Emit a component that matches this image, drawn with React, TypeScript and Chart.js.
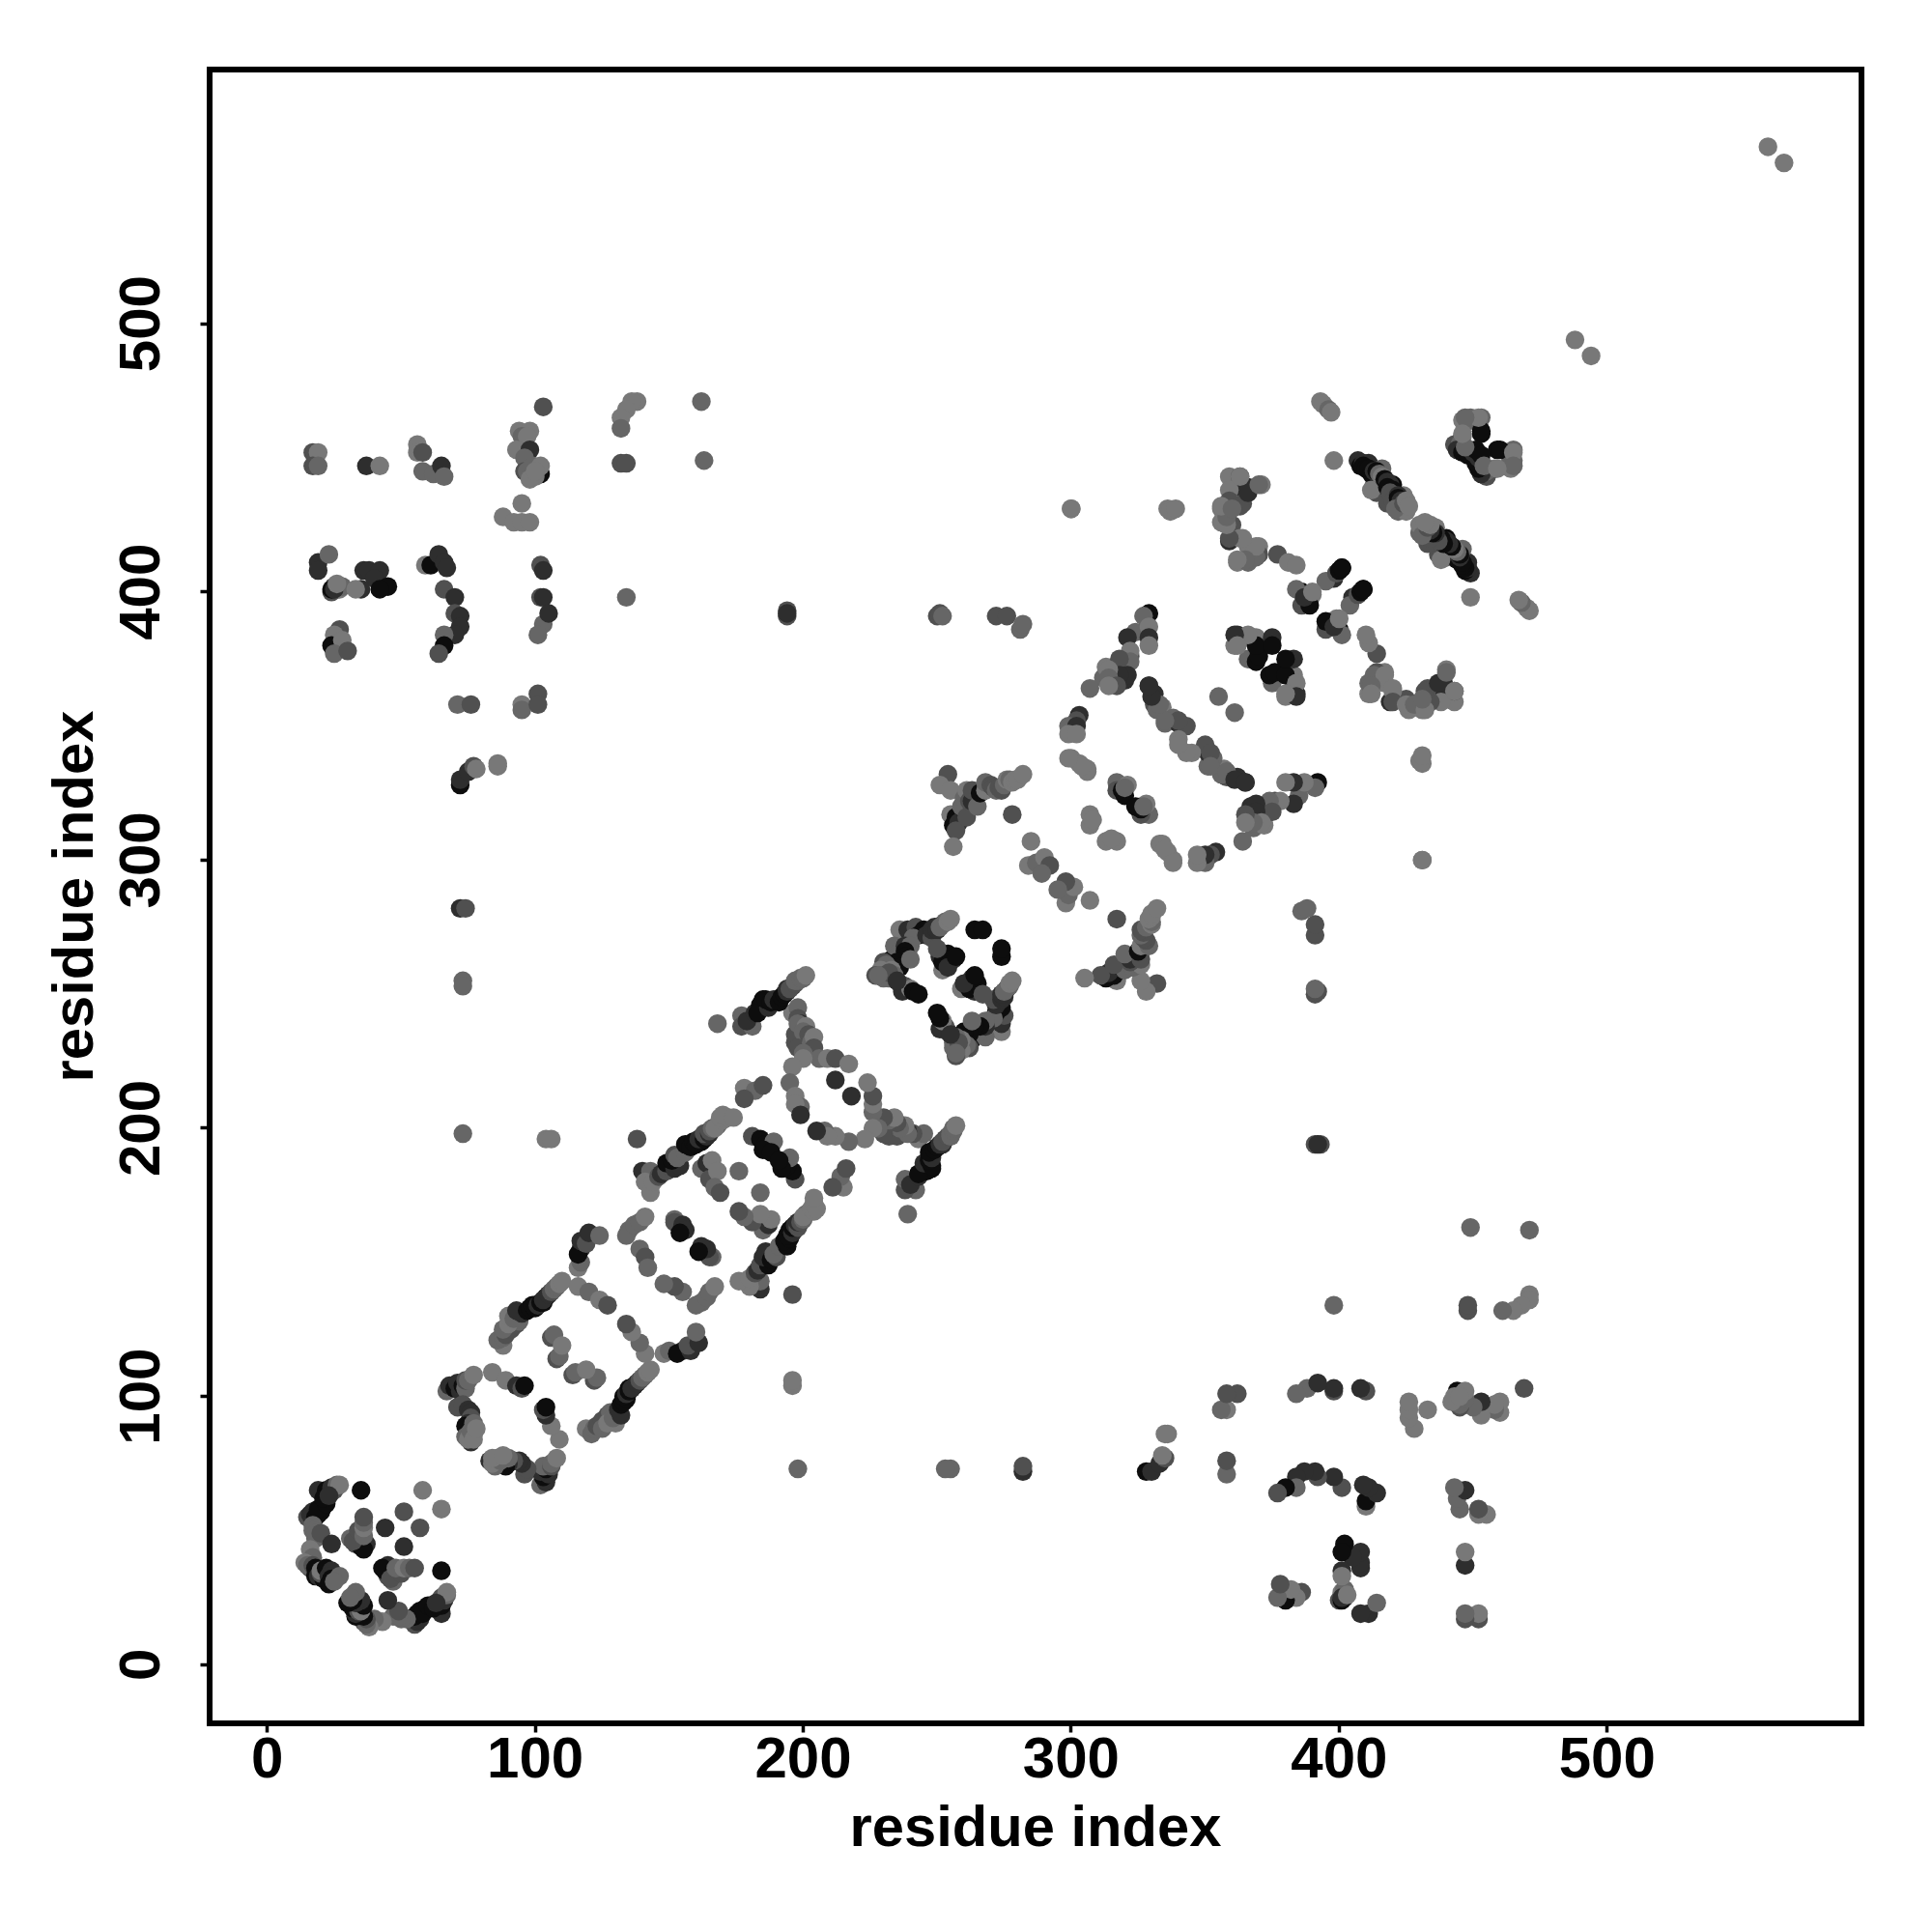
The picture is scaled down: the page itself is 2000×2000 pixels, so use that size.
import React, { useEffect, useRef } from "react";
import { Chart, registerables } from "chart.js";

Chart.register(...registerables);

// Each contact: [residue i, residue j, score class 0..4]. Every contact is plotted at (i,j) and (j,i).
const sideContacts = [
  [413,440,3],[414,437,2],[418,433,2],[422,430,3],[425,430,4],[411,448,1],[416,446,3],[420,440,0],[424,436,4],
  [316,372,2],[312,368,3],[317,367,1],[321,373,3],[324,385,3],[319,371,2],[320,367,1],[322,376,2],[318,372,2],[313,369,3],[313,372,4],
  [24,400,2],[25,402,1],
];
const firstDomain = [
  [15,55,2],[16,56,1],[25,65,2],[19,65,1],[22,65,0],[24,66,1],[26,67,3],[27,67,4],[35,65,0],[58,65,4],[51,57,2],[44,51,1],
  [33,45,2],[31,47,3],[34,48,1],[37,45,1],[35,47,1],[34,46,0],[35,44,0],[36,43,0],[32,46,2],[34,50,2],[36,48,3],[36,51,4],[36,53,3],[36,55,2],
  [17,57,1],[18,55,0],[19,56,0],[21,59,0],[20,57,0],[19,58,0],[22,60,0],[21,62,0],[23,63,1],[17,52,3],[17,50,3],[18,47,3],[18,49,3],[20,49,2],[24,45,1],[16,43,4],
  [17,40,3],[14,38,4],[16,36,2],[15,37,3],[17,37,2],[18,36,0],[18,33,0],[19,33,1],[21,32,0],[20,34,2],[20,35,4],[22,36,0],[24,35,1],[23,33,1],[24,32,0],[23,30,0],[27,33,3],[25,31,3],
];
const ringOne = [
  [67,102,3],[68,104,1],[70,103,0],[71,105,1],[72,102,1],[73,104,0],[74,103,3],[74,106,2],[75,106,3],[77,108,4],[84,109,4],[89,106,4],[93,104,1],[95,103,2],[96,104,0],
  [71,96,2],[73,97,2],[75,95,1],[76,94,1],[76,92,2],[75,90,1],[74,89,0],[77,90,3],[75,86,0],[76,83,1],[74,85,3],[75,84,4],[77,86,3],[76,87,3],[77,84,4],[78,88,4],
];
const ringTwo = [
  [87,121,4],[88,119,4],[86,121,3],[88,122,3],[89,123,2],[91,125,2],[88,125,3],[93,127,2],[94,128,3],[90,127,4],[90,130,4],[92,129,3],[95,131,1],[93,132,1],[97,132,0],[98,133,0],[99,134,0],[100,133,0],[101,134,1],[102,135,0],[103,135,0],[104,137,0],[103,136,1],[105,138,1],[106,139,2],[107,140,3],[108,141,3],[109,142,4],[110,143,4],
  [116,141,4],[120,139,3],[124,136,4],[127,134,2],
  [106,122,2],[107,123,3],[108,114,2],[109,115,3],[110,119,4],
  [116,148,4],[117,150,3],[117,155,1],[116,153,0],[117,158,1],[119,157,2],[120,161,1],[124,160,3],
  [135,162,3],[134,160,3],[137,164,3],[139,165,3],[141,167,4],
  [139,155,3],[141,152,2],[142,148,3],[152,166,3],[152,165,2],[155,164,1],[156,162,1],[154,161,0],
];
const bandThree = [
  [140,184,1],[143,184,3],[141,180,4],[143,176,4],[144,180,4],[146,182,2],[147,183,1],[149,184,2],[150,186,2],[149,187,0],[152,185,1],[154,186,1],[151,188,0],[152,190,2],[153,189,3],[156,191,3],[156,194,0],
  [158,193,0],[159,195,0],[160,194,0],[162,195,0],[161,196,1],[163,196,0],[164,197,1],[163,198,2],[165,198,1],[165,199,2],[166,200,3],[168,201,3],[167,200,4],[170,203,4],[169,204,4],[172,204,4],[170,205,4],[174,204,4],
  [162,185,3],[164,187,1],[166,188,4],[165,181,2],[168,184,4],[167,178,3],[169,176,2],[176,184,3],
  [181,197,2],[184,196,0],[186,194,0],[189,195,3],[185,192,0],[188,191,0],
  [178,215,4],[182,214,3],[185,216,2],[178,211,2],
  [168,239,3],[73,198,3],[104,196,4],[106,196,4],[138,196,2],
];
const ringFourStem = [
  [196,243,4],[198,245,3],[198,241,2],[197,232,2],[197,235,2],[199,239,1],[198,239,3],[201,238,4],[200,236,3],[202,235,2],[198,230,2],[203,232,3],[204,234,4],[204,230,2],[206,226,3],[209,226,4],[212,226,2],[217,224,4],[212,218,1],
  [200,228,3],[200,226,4],[196,223,4],[195,217,3],[197,212,4],[199,208,3],[197,209,4],[199,205,1],
  [177,242,3],[177,238,2],[181,238,3],[179,240,1],[182,243,1],[184,246,0],[185,248,0],[183,243,0],[187,245,1],[186,248,0],[188,247,0],[189,248,1],[191,247,0],[192,249,0],[193,250,0],[194,251,1],[194,252,1],[196,253,1],[195,252,2],[197,254,2],[198,255,3],[197,255,3],[199,256,3],[200,256,3],[201,257,4],
];
const ringFour = [
  [236,274,4],[239,274,1],[242,275,2],[243,272,0],[245,274,0],[241,271,3],[246,272,1],[248,271,2],[248,274,1],[249,275,1],[250,274,1],[252,276,1],[253,277,3],[251,275,3],[254,277,4],[255,278,4],
  [233,263,0],[234,268,3],[236,266,3],[238,268,1],[240,268,3],[238,266,0],[238,264,0],[235,262,0],[236,260,0],[240,263,3],[230,262,2],[231,261,3],[229,259,4],[233,259,4],[227,257,2],[229,257,3],[230,256,3],[232,256,3],[234,257,3],[236,254,2],[238,253,2],[237,251,1],[240,252,4],[241,251,0],[243,250,0],
  [251,264,1],[252,259,4],[252,262,0],[254,265,0],[256,263,1],[255,263,0],[254,260,1],[264,274,0],[267,274,0],[267,250,2],
  [232,258,2],[257,264,0],[228,257,3],[235,255,1],
];
const helixBundle = [
  [254,332,2],[251,328,4],[255,326,4],[255,317,4],[256,313,0],[257,316,0],[258,314,1],[260,319,0],[257,311,2],[256,305,4],[259,320,3],[260,323,3],[261,326,4],[261,316,2],[262,322,2],[263,322,1],[263,326,2],[265,320,3],[266,325,0],[268,326,4],
  [268,329,3],[270,328,2],[271,327,2],[272,326,3],[273,327,2],[274,326,2],[275,328,3],[276,330,4],[277,330,3],[278,329,4],[279,330,4],[280,330,4],[282,332,4],[278,317,2],
  [285,307,4],[284,298,4],[287,299,3],[290,301,4],[292,298,2],[289,295,3],
  [300,338,4],[303,336,4],[304,335,4],[306,333,4],[307,317,4],[307,313,4],[308,315,4],
  [317,329,3],[317,326,2],[319,326,0],[321,328,4],[320,324,0],[320,327,3],
  [306,334,4],[304,335,4],[299,338,4],
  [329,392,0],[327,391,3],[329,387,4],[329,383,1],[329,380,4],[321,383,1],[322,378,4],[322,374,3],[318,375,2],[321,369,1],[318,369,1],[314,371,4],[314,368,3],[317,365,2],[314,365,4],[307,364,3],
  [303,354,1],[302,352,2],[299,350,3],[302,350,1],[299,347,4],[302,347,4],
  [329,365,1],[331,362,1],[331,358,2],[334,357,4],[332,356,3],[335,351,3],[338,353,3],[340,351,1],[343,350,2],[340,345,4],[343,340,4],[340,352,2],[335,352,3],[333,358,3],[330,361,1],[329,365,1],
  [355,361,3],
];
const lateStrands = [
  [362,384,1],[365,383,3],[361,380,4],[369,383,4],[375,383,1],[370,378,0],[366,375,3],[369,374,0],[370,376,0],[369,380,0],[375,380,0],[366,384,4],[361,384,1],[362,380,4],
  [394,470,4],[393,471,4],[396,468,3],[397,467,4],
  [398,449,4],
  [407,449,1],[408,447,0],[409,448,1],[409,447,0],[410,446,0],[411,446,0],[412,444,0],[412,438,4],[413,445,1],[414,445,0],[415,444,3],[416,443,4],[417,442,0],[418,441,1],[419,440,1],[418,439,0],[420,438,0],[419,437,2],[420,434,2],[422,436,1],[422,435,0],[423,434,1],[421,431,3],[424,433,2],[425,434,4],[426,432,4],
  [445,456,2],[446,464,4],[447,463,4],[449,465,3],[450,464,3],[453,465,3],[453,459,0],[446,458,4],[443,455,2],[445,455,3],[444,453,1],[447,452,0],[446,452,0],[448,451,0],[450,452,1],[451,453,0],[447,454,3],[453,460,0],[452,465,4],[447,465,3],[446,459,4],
  [401,409,0],[398,405,1],[395,404,3],[399,407,2],[400,408,0],[401,409,0],
  [390,399,4],[386,400,0],[384,401,3],[386,395,2],[389,395,0],[387,398,1],[390,400,4],
  [359,443,4],[363,443,2],[371,440,4],[366,439,1],[363,439,1],[359,438,4],[364,433,2],[359,434,2],[356,431,4],[360,425,2],[356,426,4],[359,419,1],[363,420,4],[370,417,4],[366,417,4],[362,411,4],[366,411,3],[370,414,2],[377,414,2],[381,411,4],[384,410,4],
  [369,413,3],[369,417,4],[365,412,3],[362,412,4],[364,420,4],[359,420,2],[358,425,4],[358,428,3],[356,432,4],[363,432,2],[360,431,3],[366,437,1],[370,440,3],[363,443,4],
  [488,494,4],[560,566,4],
];
const farContacts = [
  [103,469,2],[138,471,4],[136,471,4],[134,468,4],[132,465,4],[132,461,3],[132,448,2],[134,448,2],[162,471,3],[163,449,3],
  [17,452,2],[19,452,4],[17,447,2],[19,447,3],[37,447,1],[42,447,4],
  [56,455,4],[56,452,4],[58,452,2],[58,445,3],[62,444,3],[65,447,1],[66,443,3],
  [94,460,4],[98,460,4],[96,457,2],[95,458,3],[97,458,4],[93,453,4],[98,453,1],[96,450,3],[96,445,2],[97,445,3],[102,444,0],[101,446,3],[99,447,3],[102,447,4],[100,443,4],[98,442,4],[100,445,4],
  [95,433,4],[88,428,4],[92,426,4],[95,426,4],[98,426,4],
  [19,411,1],[19,408,1],[23,414,3],[36,408,1],[38,408,1],[42,408,1],[40,405,1],[45,402,0],[42,401,0],[35,401,1],[24,401,0],[26,401,2],[27,401,4],[28,402,3],[25,401,1],[26,403,4],[33,401,4],
  [59,410,4],[61,410,0],[64,414,1],[66,411,1],[67,409,1],
  [66,401,2],[70,398,1],[70,392,2],[72,391,1],[72,387,1],[70,384,1],[66,384,3],[66,380,0],[64,377,2],
  [102,410,2],[103,408,1],[102,398,2],[103,398,1],[103,388,3],[105,392,1],[101,384,3],[134,398,3],
  [27,386,2],[25,384,4],[24,380,0],[28,382,4],[25,377,3],[30,378,2],
  [71,358,3],[76,358,2],[95,358,4],[95,356,3],[101,362,2],[101,358,2],
  [72,328,0],[72,330,1],[75,333,1],[77,335,2],[78,334,4],[86,336,4],[86,335,4],
  [72,282,1],[74,282,2],[73,255,3],[73,253,3],[194,393,2],[194,391,2],[250,391,2],[251,392,2],[252,391,3],[272,391,2],[276,391,2],[281,386,3],[282,388,3],
  [300,431,4],[336,431,4],[337,430,4],[339,431,4],[300,431,4],[194,392,1],
];

const tickValues = [0, 100, 200, 300, 400, 500];
const axisTitle = "residue index";
const scoreGray = [13, 46, 80, 102, 120];

const allContacts = [...sideContacts, ...firstDomain, ...ringOne, ...ringTwo, ...bandThree, ...ringFourStem, ...ringFour, ...helixBundle, ...lateStrands, ...farContacts];
const points = allContacts.flatMap(([i, j, s]) => [{ x: i, y: j, s }, { x: j, y: i, s }]);

const FONT = "'Liberation Sans', Arial, sans-serif";

const frame = {
  id: "frame",
  afterDraw(chart: any) {
    const { ctx, chartArea: a } = chart;
    ctx.save();
    ctx.strokeStyle = "#000";
    ctx.lineWidth = 6;
    ctx.strokeRect(a.left, a.top, a.right - a.left, a.bottom - a.top);
    ctx.restore();
  },
};

export default function App() {
  const ref = useRef<HTMLCanvasElement>(null);
  useEffect(() => {
    const axis = (extra: any) => ({
      type: "linear",
      afterBuildTicks: (s: any) => { s.ticks = tickValues.map((value) => ({ value })); },
      border: { display: false },
      grid: { display: true, drawOnChartArea: false, drawTicks: true, tickLength: 9.5, tickWidth: 3.5, tickColor: "#000" },
      title: { display: true, text: axisTitle, color: "#000", font: { family: FONT, size: 59.7, weight: "bold", lineHeight: 1.2 }, padding: 0 },
      ...extra,
    });
    const chart = new Chart(ref.current as HTMLCanvasElement, {
      type: "scatter",
      data: {
        datasets: [{
          data: points,
          pointRadius: 9.7,
          pointHoverRadius: 9.7,
          borderWidth: 0,
          pointBackgroundColor: points.map((p) => { const g = scoreGray[p.s]; return `rgb(${g},${g},${g})`; }),
        }],
      },
      options: {
        animation: false,
        responsive: false,
        events: [],
        layout: { padding: { top: 72, right: 73, bottom: 70, left: 44 } },
        plugins: { legend: { display: false }, tooltip: { enabled: false } },
        scales: {
          x: axis({
            min: -21.5,
            max: 594.9,
            afterFit: (s: any) => { s.height = 146; },
            ticks: { color: "#000", font: { family: FONT, size: 60, weight: "bold" }, padding: -6.5, autoSkip: false, maxRotation: 0, minRotation: 0 },
          }),
          y: axis({
            min: -21.9,
            max: 594.8,
            afterFit: (s: any) => { s.width = 173; },
            ticks: { color: "#000", font: { family: FONT, size: 60, weight: "bold" }, padding: 8.5, autoSkip: false, minRotation: 90, maxRotation: 90, crossAlign: "center" },
          }),
        },
      } as any,
      plugins: [frame],
    });
    return () => chart.destroy();
  }, []);
  return (
    <div style={{ position: "absolute", left: 0, top: 0, width: 2000, height: 2000, background: "#fff" }}>
      <canvas ref={ref} width={2000} height={2000} style={{ width: 2000, height: 2000, display: "block" }} />
    </div>
  );
}
